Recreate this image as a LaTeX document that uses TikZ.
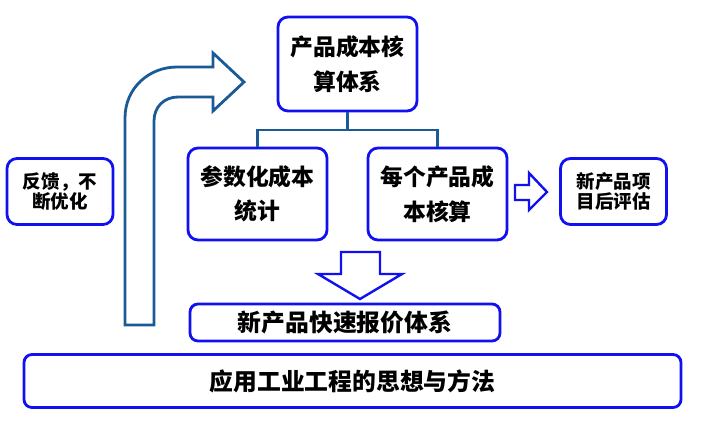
\documentclass[tikz,border=0pt]{standalone}
\usepackage{fontspec}
\setmainfont{Noto Sans CJK SC}
\definecolor{boxblue}{HTML}{1010F0}
\definecolor{steel}{HTML}{1A5A96}
\tikzset{
  box/.style={draw=boxblue, line width=2.8pt, rounded corners=10pt, fill=white, align=center, inner sep=0pt, font=\bfseries},
  bigtxt/.style={font=\fontsize{22.8}{34.5}\selectfont\bfseries},
  smalltxt/.style={font=\fontsize{18.5}{20}\selectfont\bfseries},
  wide/.style={font=\fontsize{23.8}{26}\selectfont\bfseries},
  conn/.style={draw=steel, line width=2.8pt},
  blockarrow/.style={draw=boxblue, line width=2.4pt, fill=white, line join=miter},
}
\begin{document}
\begin{tikzpicture}[x=1pt,y=-1pt]
\useasboundingbox (0,0) rectangle (701,424);
% big curved arrow
\draw[draw=steel, line width=2.8pt, fill=white, line join=miter]
  (125,325) -- (125,118) .. controls (125,88) and (149,67) .. (177,67)
  -- (213,67) -- (213,53) -- (244,82) -- (213,111) -- (213,97) -- (178,97)
  .. controls (164,97) and (154,107) .. (154,121) -- (154,325) -- cycle;
% nodes
\node[box, bigtxt, minimum width=139pt, minimum height=94pt] (top) at (347.5,64) {产品成本核\\算体系};
\node[box, bigtxt, minimum width=139pt, minimum height=92pt] (param) at (257.5,194) {参数化成本\\统计};
\node[box, bigtxt, minimum width=139pt, minimum height=92pt] (each) at (437.5,194) {每个产品成\\本核算};
\node[box, smalltxt, minimum width=106pt, minimum height=66pt] (post) at (613.5,191.5) {新产品项\\目后评估};
\node[box, smalltxt, minimum width=106pt, minimum height=66pt] (fb) at (60,191.5) {反馈，不\\断优化};
\node[box, wide, rounded corners=8pt, minimum width=310pt, minimum height=37pt] (quote) at (345,322.5) {新产品快速报价体系};
\node[box, wide, rounded corners=8pt, minimum width=657pt, minimum height=53pt] (ie) at (352.5,381) {应用工业工程的思想与方法};
% tree connectors
\coordinate (junc) at (347.5,130);
\draw[conn] (top.south) -- (junc);
\draw[conn] (junc) -| (param.north);
\draw[conn] (junc) -| (each.north);
% down block arrow
\draw[blockarrow] (341,252) -- (380,252) -- (380,274) -- (402,274) -- (360,299) -- (318,274) -- (341,274) -- cycle;
% right block arrow
\draw[blockarrow] (515,185) -- (529,185) -- (529,173) -- (547,192) -- (529,210) -- (529,200) -- (515,200) -- cycle;
\end{tikzpicture}
\end{document}
